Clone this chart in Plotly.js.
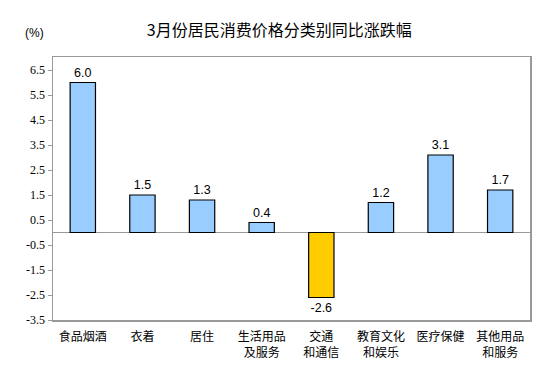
<!DOCTYPE html>
<html>
<head>
<meta charset="utf-8">
<script src="https://cdn.plot.ly/plotly-3.0.1.min.js"></script>
<style>html,body{margin:0;padding:0;background:#fff;}#chart{width:553px;height:384px;}</style>
</head>
<body>
<div id="chart"></div>
<script>
var categories = ["食品烟酒", "衣着", "居住", "生活用品<br>及服务", "交通<br>和通信", "教育文化<br>和娱乐", "医疗保健", "其他用品<br>和服务"];
var values = [6.0, 1.5, 1.3, 0.4, -2.6, 1.2, 3.1, 1.7];
var tickValues = [6.5, 5.5, 4.5, 3.5, 2.5, 1.5, 0.5, -0.5, -1.5, -2.5, -3.5];
var tickLabels = ["6.5", "5.5", "4.5", "3.5", "2.5", "1.5", "0.5", "-0.5", "-1.5", "-2.5", "-3.5"];

var colors = values.map(function(v){ return v < 0 ? "#FFCC00" : "#99CCFF"; });
var labels = values.map(function(v){ return v.toFixed(1); });

var trace = {
  type: "bar",
  x: categories,
  y: values,
  width: 0.425,
  marker: {color: colors, line: {color: "#000000", width: 1.2}},
  text: labels,
  textposition: "outside",
  textfont: {family: "Liberation Sans, Arial, sans-serif", size: 12.5, color: "#000"},
  cliponaxis: false,
  hoverinfo: "none"
};

var layout = {
  width: 553, height: 384,
  margin: {l: 53, r: 23, t: 57, b: 64},
  paper_bgcolor: "#fff", plot_bgcolor: "#fff",
  showlegend: false,
  title: {text: "3月份居民消费价格分类别同比涨跌幅", x: 0.505, xanchor: "center", y: 0.922, yanchor: "middle",
          font: {family: "Noto Sans CJK SC, sans-serif", size: 16, color: "#000"}},
  xaxis: {
    showline: true, mirror: true, linecolor: "#999", linewidth: 1.5,
    showgrid: false, zeroline: false, ticks: "",
    ticklabelstandoff: 5,
    tickfont: {family: "Noto Sans CJK SC, sans-serif", size: 12, color: "#000"},
    fixedrange: true
  },
  yaxis: {
    range: [-3.5, 7.02],
    tickvals: tickValues, ticktext: tickLabels,
    showline: true, mirror: true, linecolor: "#999", linewidth: 1.5,
    ticks: "outside", ticklen: 4, tickcolor: "#999", tickwidth: 1,
    showgrid: false,
    zeroline: true, zerolinecolor: "#999", zerolinewidth: 1.5,
    tickfont: {family: "Liberation Serif, Times New Roman, serif", size: 12, color: "#000"},
    fixedrange: true
  },
  annotations: [{
    text: "(%)", xref: "paper", yref: "paper", x: -0.062, y: 1.0, xanchor: "left", yanchor: "middle",
    yshift: 24, showarrow: false,
    font: {family: "Liberation Sans, Arial, sans-serif", size: 12, color: "#000"}
  }]
};

Plotly.newPlot("chart", [trace], layout, {displayModeBar: false, staticPlot: true});
</script>
</body>
</html>
